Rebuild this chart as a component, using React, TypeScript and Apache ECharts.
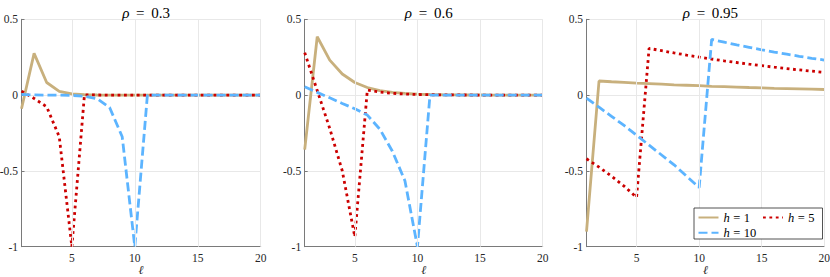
import React, { useEffect, useRef } from "react";
import * as echarts from "echarts";

// ---- data ----
const LAGS = [1, 2, 3, 4, 5, 6, 7, 8, 9, 10, 11, 12, 13, 14, 15, 16, 17, 18, 19, 20];
const RHO_LABELS = ["0.3", "0.6", "0.95"];
const SERIES_NAMES = ["h = 1", "h = 5", "h = 10"];
const X_TICKS = [5, 10, 15, 20];

const RHO03_H1 = [-0.09, 0.275, 0.083, 0.025, 0.0074, 0.0022, 0.0007, 0.0002, 0.0001, 0, 0, 0, 0, 0, 0, 0, 0, 0, 0, 0];
const RHO03_H5 = [0.026, -0.022, -0.077, -0.275, -1.0, 0.002, 0.0006, 0.0002, 0, 0, 0, 0, 0, 0, 0, 0, 0, 0, 0, 0];
const RHO03_H10 = [0.005, 0.001, 0, -0.0006, -0.002, -0.007, -0.024, -0.082, -0.275, -1.0, 0, 0, 0, 0, 0, 0, 0, 0, 0, 0];

const RHO06_H1 = [-0.36, 0.385, 0.231, 0.139, 0.083, 0.05, 0.03, 0.018, 0.011, 0.0065, 0.0039, 0.0023, 0.0014, 0.0008, 0.0005, 0.0003, 0.0002, 0.0001, 0.0001, 0];
const RHO06_H5 = [0.28, 0.03, -0.22, -0.5, -0.935, 0.033, 0.02, 0.012, 0.007, 0.0043, 0.0026, 0.0015, 0.0009, 0.0006, 0.0003, 0.0002, 0.0001, 0.0001, 0, 0];
const RHO06_H10 = [0.055, 0.018, -0.018, -0.055, -0.09, -0.132, -0.225, -0.37, -0.565, -1.0, 0, 0, 0, 0, 0, 0, 0, 0, 0, 0];

const RHO095_H1 = [-0.9, 0.093, 0.088, 0.084, 0.079, 0.076, 0.072, 0.068, 0.065, 0.062, 0.058, 0.056, 0.053, 0.05, 0.048, 0.045, 0.043, 0.041, 0.039, 0.037];
const RHO095_H5 = [-0.42, -0.475, -0.535, -0.6, -0.675, 0.308, 0.293, 0.278, 0.264, 0.251, 0.238, 0.226, 0.215, 0.204, 0.194, 0.184, 0.175, 0.166, 0.158, 0.15];
const RHO095_H10 = [-0.02, -0.08, -0.14, -0.2, -0.265, -0.33, -0.395, -0.46, -0.535, -0.61, 0.367, 0.349, 0.331, 0.315, 0.299, 0.284, 0.27, 0.256, 0.243, 0.231];

const PANELS = [
  [RHO03_H1, RHO03_H5, RHO03_H10],
  [RHO06_H1, RHO06_H5, RHO06_H10],
  [RHO095_H1, RHO095_H5, RHO095_H10],
];

// ---- styles ----
const FONT = "Liberation Serif";
const TEXT = "#262626";
const AXIS = "#7a7a7a";
const GRIDC = "#e8e8e8";
const COLORS = ["#C8B07D", "#CC0000", "#5CB4FF"];
const LINE_TYPES: any[] = ["solid", [2.8, 3.6], [9, 4]];
const GRIDS = [
  { left: 21.5, top: 19.3, width: 239.2, height: 227.4, outerBoundsMode: "none", containLabel: false },
  { left: 304.7, top: 19.3, width: 238, height: 227.4, outerBoundsMode: "none", containLabel: false },
  { left: 586.5, top: 19.3, width: 237.8, height: 227.4, outerBoundsMode: "none", containLabel: false },
];

export default function App() {
  const ref = useRef<HTMLDivElement>(null);
  useEffect(() => {
    if (!ref.current) return;
    const chart = echarts.init(ref.current, null, { renderer: "svg" });

    const xAxes = GRIDS.map((_, i) => ({
      type: "value",
      gridIndex: i,
      min: 1,
      max: 20,
      name: "ℓ",
      nameLocation: "middle",
      nameGap: 17,
      nameMoveOverlap: false,
      nameTextStyle: { fontFamily: FONT, fontStyle: "italic", fontSize: 12, color: TEXT },
      axisLine: { show: true, onZero: false, lineStyle: { color: AXIS, width: 1 } },
      axisTick: { show: true, inside: true, length: 3, customValues: X_TICKS, lineStyle: { color: AXIS } },
      axisLabel: { customValues: X_TICKS, fontFamily: FONT, fontSize: 11.5, color: TEXT, margin: 5 },
      splitLine: { show: false },
    }));
    const yAxes = GRIDS.map((_, i) => ({
      type: "value",
      gridIndex: i,
      min: -1,
      max: 0.5,
      interval: 0.5,
      axisLine: { show: true, onZero: false, lineStyle: { color: AXIS, width: 1 } },
      axisTick: { show: true, inside: true, length: 3, lineStyle: { color: AXIS } },
      axisLabel: { fontFamily: FONT, fontSize: 11.5, color: TEXT, margin: 3.5 },
      splitLine: { show: true, lineStyle: { color: GRIDC, width: 1 } },
    }));

    const series: any[] = [];
    PANELS.forEach((panel, i) => {
      series.push({
        type: "line",
        name: "grid" + i,
        xAxisIndex: i,
        yAxisIndex: i,
        data: [],
        z: 1,
        silent: true,
        markLine: {
          silent: true,
          symbol: "none",
          label: { show: false },
          lineStyle: { color: GRIDC, width: 1, type: "solid" },
          data: X_TICKS.map((v) => ({ xAxis: v })),
        },
      });
      panel.forEach((vals, k) => {
        series.push({
          type: "line",
          name: SERIES_NAMES[k],
          xAxisIndex: i,
          yAxisIndex: i,
          showSymbol: false,
          symbol: "none",
          z: 2 + k,
          lineStyle: { color: COLORS[k], width: 2.8, type: LINE_TYPES[k], cap: "butt" },
          itemStyle: { color: COLORS[k] },
          data: LAGS.map((x, j) => [x, vals[j]]),
        });
      });
    });

    const titles = GRIDS.map((g, i) => ({
      text: "{i|ρ}{eq|=}" + RHO_LABELS[i],
      left: g.left + g.width / 2,
      top: 0,
      textAlign: "center",
      textStyle: {
        fontFamily: FONT,
        fontSize: 15,
        fontWeight: "normal",
        color: "#000",
        rich: {
          i: { fontFamily: FONT, fontSize: 15, fontStyle: "italic", color: "#000" },
          eq: { fontFamily: FONT, fontSize: 15, color: "#000", width: 22, align: "center" },
        },
      },
    }));

    const legendText = {
      fontFamily: FONT,
      fontSize: 12.5,
      color: "#000",
      rich: {
        i: { fontFamily: FONT, fontSize: 12.5, fontStyle: "italic", color: "#000" },
        eq: { fontFamily: FONT, fontSize: 12.5, color: "#000", width: 14, align: "center" },
      },
    };
    const fmt = (n: string) => {
      const parts = n.split(" = ");
      return "{i|" + parts[0] + "}{eq|=}" + parts[1];
    };

    chart.setOption({
      animation: false,
      backgroundColor: "#fff",
      textStyle: { fontFamily: FONT },
      title: titles,
      grid: GRIDS,
      xAxis: xAxes,
      yAxis: yAxes,
      legend: [
        {
          data: [SERIES_NAMES[0], SERIES_NAMES[1]],
          left: 697.5,
          top: 211,
          orient: "horizontal",
          itemGap: 12,
          itemWidth: 20,
          itemHeight: 12,
          padding: 0,
          z: 10,
          selectedMode: false,
          formatter: fmt,
          itemStyle: { opacity: 0 },
          textStyle: legendText,
        },
        {
          data: [SERIES_NAMES[2]],
          left: 697.5,
          top: 226.3,
          orient: "horizontal",
          itemWidth: 20,
          itemHeight: 12,
          padding: 0,
          z: 10,
          selectedMode: false,
          formatter: fmt,
          itemStyle: { opacity: 0 },
          textStyle: legendText,
        },
      ],
      graphic: [
        {
          type: "rect",
          z: 8,
          shape: { x: 694, y: 208, width: 128.5, height: 31 },
          style: { fill: "#fff", stroke: "#262626", lineWidth: 0.8 },
        },
      ],
      series,
    });
    return () => chart.dispose();
  }, []);
  return (
    <div
      ref={ref}
      style={{ position: "fixed", left: 0, top: 0, width: 830, height: 277, background: "#fff" }}
    />
  );
}
